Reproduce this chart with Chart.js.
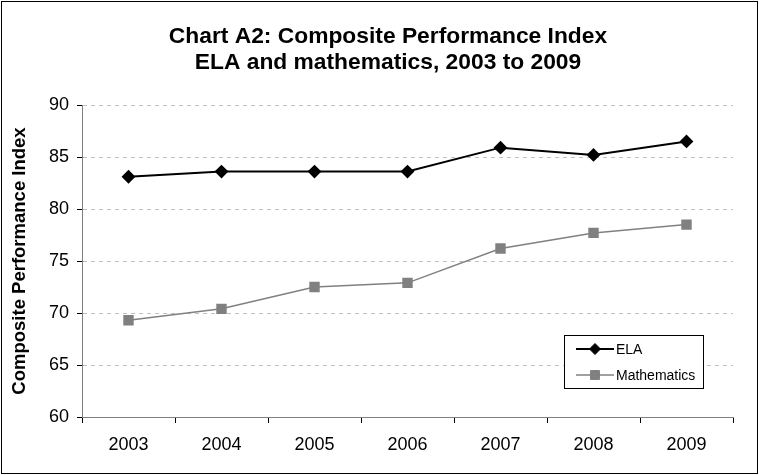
<!DOCTYPE html>
<html>
<head>
<meta charset="utf-8">
<script src="https://cdn.jsdelivr.net/npm/chart.js@4/dist/chart.umd.min.js"></script>
<style>
html,body{margin:0;padding:0;background:#fff;}
#wrap{width:759px;height:475px;position:relative;}
</style>
</head>
<body>
<div id="wrap"><canvas id="cpiChart"></canvas></div>
<script>
// ================================
// Chart data
// ================================

const years = ["2003","2004","2005","2006","2007","2008","2009"];

const elaValues = [83.1, 83.6, 83.6, 83.6, 85.9, 85.2, 86.5];

const mathValues = [69.3, 70.4, 72.5, 72.9, 76.2, 77.7, 78.5];

const titleLines = ["Chart A2: Composite Performance Index", "ELA and mathematics, 2003 to 2009"];

const yTitle = "Composite Performance Index";

const FONT = "'Liberation Sans', Arial, sans-serif";

// ================================
// Frame, background and title
// ================================

const framePlugin = {
    id: "frame",
    beforeDraw(chart){
        const ctx = chart.ctx;
        ctx.save();
        ctx.fillStyle = "#ffffff";
        ctx.fillRect(0, 0, chart.width, chart.height);
        ctx.strokeStyle = "#000000";
        ctx.lineWidth = 1;
        ctx.strokeRect(1.5, 1.5, chart.width - 3, chart.height - 3);
        // title (centred a bit right of the canvas, like the original)
        ctx.fillStyle = "#000000";
        ctx.font = "bold 22.8px " + FONT;
        ctx.textAlign = "center";
        ctx.textBaseline = "middle";
        titleLines.forEach(function(line, i){
            ctx.fillText(line, 388, 37 + i * 26);
        });
        ctx.restore();
    }
};

// ================================
// Legend box inside the plot
// ================================

const boxLegend = {
    id: "boxLegend",
    afterDraw(chart){
        const ctx = chart.ctx;
        const left = 564, top = 335, w = 139, h = 53;
        ctx.save();
        ctx.fillStyle = "#ffffff";
        ctx.fillRect(left, top, w, h);
        ctx.strokeStyle = "#000000";
        ctx.lineWidth = 1;
        ctx.strokeRect(left + 0.5, top + 0.5, w, h);
        ctx.font = "14px " + FONT;
        ctx.textBaseline = "middle";
        chart.data.datasets.forEach(function(ds, i){
            const y = top + 14 + i * 26;
            ctx.strokeStyle = ds.borderColor;
            ctx.lineWidth = ds.borderWidth;
            ctx.beginPath();
            ctx.moveTo(576, y);
            ctx.lineTo(614, y);
            ctx.stroke();
            ctx.fillStyle = ds.pointBackgroundColor;
            ctx.strokeStyle = ds.pointBorderColor;
            ctx.lineWidth = 1;
            Chart.helpers.drawPoint(ctx, {pointStyle: ds.pointStyle, radius: ds.pointRadius, rotation: 0, borderWidth: 1}, 595, y);
            ctx.fillStyle = "#000000";
            ctx.fillText(ds.label, 616, y + 1);
        });
        ctx.restore();
    }
};

// ================================
// Chart
// ================================

new Chart(document.getElementById("cpiChart"), {
    type: "line",
    data: {
        labels: years,
        datasets: [
            {
                label: "ELA",
                data: elaValues,
                borderColor: "#000000",
                borderWidth: 2,
                pointStyle: "rectRot",
                pointRadius: 5.5,
                pointBackgroundColor: "#000000",
                pointBorderColor: "#000000",
                tension: 0
            },
            {
                label: "Mathematics",
                data: mathValues,
                borderColor: "#808080",
                borderWidth: 1.5,
                pointStyle: "rect",
                pointRadius: 6.3,
                pointBackgroundColor: "#808080",
                pointBorderColor: "#808080",
                tension: 0
            }
        ]
    },
    options: {
        responsive: true,
        maintainAspectRatio: false,
        animation: false,
        layout: {
            padding: {top: 105, left: 0, right: 26, bottom: 0}
        },
        plugins: {
            legend: {display: false},
            tooltip: {enabled: false},
            title: {display: false}
        },
        scales: {
            x: {
                offset: true,
                grid: {
                    offset: true,
                    drawOnChartArea: false,
                    drawTicks: true,
                    tickLength: 6,
                    tickColor: "#000000"
                },
                border: {color: "#808080", width: 1},
                ticks: {
                    color: "#000000",
                    padding: 11,
                    font: {family: FONT, size: 18}
                },
                afterFit(scale){ scale.height = 58; }
            },
            y: {
                min: 60,
                max: 90,
                ticks: {
                    stepSize: 5,
                    color: "#000000",
                    padding: 8,
                    font: {family: FONT, size: 18}
                },
                grid: {
                    color: "#c0c0c0",
                    tickLength: 5,
                    tickColor: "#000000",
                    tickBorderDash: []
                },
                border: {color: "#808080", width: 1, dash: [4, 4]},
                title: {
                    display: true,
                    text: yTitle,
                    color: "#000000",
                    font: {family: FONT, size: 18.5, weight: "bold"},
                    padding: {top: 9, bottom: 0}
                },
                afterFit(scale){ scale.width = 82; }
            }
        }
    },
    plugins: [framePlugin, boxLegend]
});
</script>
</body>
</html>
